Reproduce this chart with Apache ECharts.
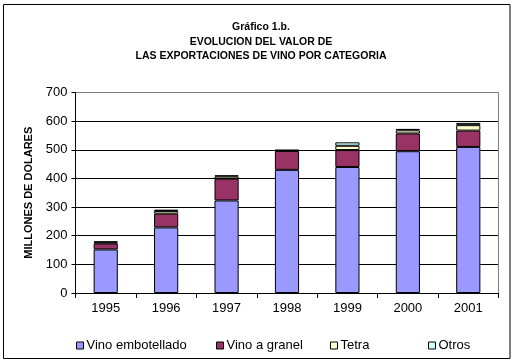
<!DOCTYPE html>
<html>
<head>
<meta charset="utf-8">
<script src="https://cdn.jsdelivr.net/npm/echarts@6/dist/echarts.min.js"></script>
<style>
html,body{margin:0;padding:0;background:#fff;}
#chart{width:515px;height:364px;}
</style>
</head>
<body>
<div id="chart"></div>
<script>
var categories = ['1995','1996','1997','1998','1999','2000','2001'];
var vinoEmbotellado = [152, 229, 323, 430, 440, 495, 510];
var vinoGranel = [21, 48, 76, 66, 59, 62, 57];
var tetra = [4, 9, 8, 2, 15, 11, 19];
var otros = [3, 5, 4, 1, 12, 5, 8];
var yTicks = [0, 100, 200, 300, 400, 500, 600, 700];

var FONT = '"Liberation Sans", Arial, sans-serif';
var chart = echarts.init(document.getElementById('chart'), null, {renderer: 'canvas'});

function bar(name, data, color) {
  return {
    name: name, type: 'bar', stack: 'total', data: data, barWidth: '40%',
    itemStyle: {color: color, borderColor: '#000', borderWidth: 1},
    emphasis: {disabled: true}, animation: false
  };
}
function legend(name, left) {
  return {
    data: [name], left: left, top: 339, icon: 'rect', itemWidth: 7, itemHeight: 7,
    itemGap: 0, padding: 0,
    itemStyle: {borderColor: '#000', borderWidth: 1},
    textStyle: {fontFamily: FONT, fontSize: 13, color: '#000', padding: [0,0,0,-2]},
    selectedMode: false
  };
}

var splitColors = yTicks.map(function (v, i) { return i === yTicks.length - 1 ? '#808080' : '#000'; });

chart.setOption({
  animation: false,
  backgroundColor: '#fff',
  title: {
    text: 'Gráfico 1.b.\nEVOLUCION DEL VALOR DE\nLAS EXPORTACIONES DE VINO POR CATEGORIA',
    left: 256, top: 15, textAlign: 'center',
    textStyle: {fontFamily: FONT, fontSize: 10.5, fontWeight: 'bold', color: '#000', lineHeight: 14.5, align: 'center'}
  },
  graphic: [{
    type: 'rect', shape: {x: 3.5, y: 4.5, width: 506.5, height: 354},
    style: {fill: 'none', stroke: '#000', lineWidth: 1}, silent: true, z: 100
  }],
  legend: [
    legend('Vino embotellado', 76),
    legend('Vino a granel', 216),
    legend('Tetra', 330),
    legend('Otros', 428)
  ],
  grid: {left: 75.5, right: 16.5, top: 92.5, bottom: 71},
  xAxis: {
    type: 'category', data: categories,
    axisLine: {lineStyle: {color: '#000', width: 1}},
    axisTick: {show: true, alignWithLabel: false, length: 5, lineStyle: {color: '#000'}},
    axisLabel: {fontFamily: FONT, fontSize: 13, color: '#000', margin: 9}
  },
  yAxis: [{
    type: 'value', min: 0, max: 700, interval: 100,
    name: 'MILLONES DE DOLARES', nameLocation: 'middle', nameGap: 41, nameRotate: 90,
    nameTextStyle: {fontFamily: FONT, fontSize: 11, fontWeight: 'bold', color: '#000'},
    axisLine: {show: true, lineStyle: {color: '#000'}},
    axisTick: {show: true, length: 4, lineStyle: {color: '#000'}},
    axisLabel: {fontFamily: FONT, fontSize: 13, color: '#000', margin: 8},
    splitLine: {show: true, lineStyle: {color: splitColors, width: 1}}
  }, {
    type: 'value', min: 0, max: 700, interval: 100, position: 'right',
    axisLine: {show: true, lineStyle: {color: '#808080'}},
    axisTick: {show: false}, axisLabel: {show: false}, splitLine: {show: false}
  }],
  series: [
    bar('Vino embotellado', vinoEmbotellado, '#9999FF'),
    bar('Vino a granel', vinoGranel, '#993366'),
    bar('Tetra', tetra, '#FFFFCC'),
    bar('Otros', otros, '#CCFFFF')
  ]
});
</script>
</body>
</html>
